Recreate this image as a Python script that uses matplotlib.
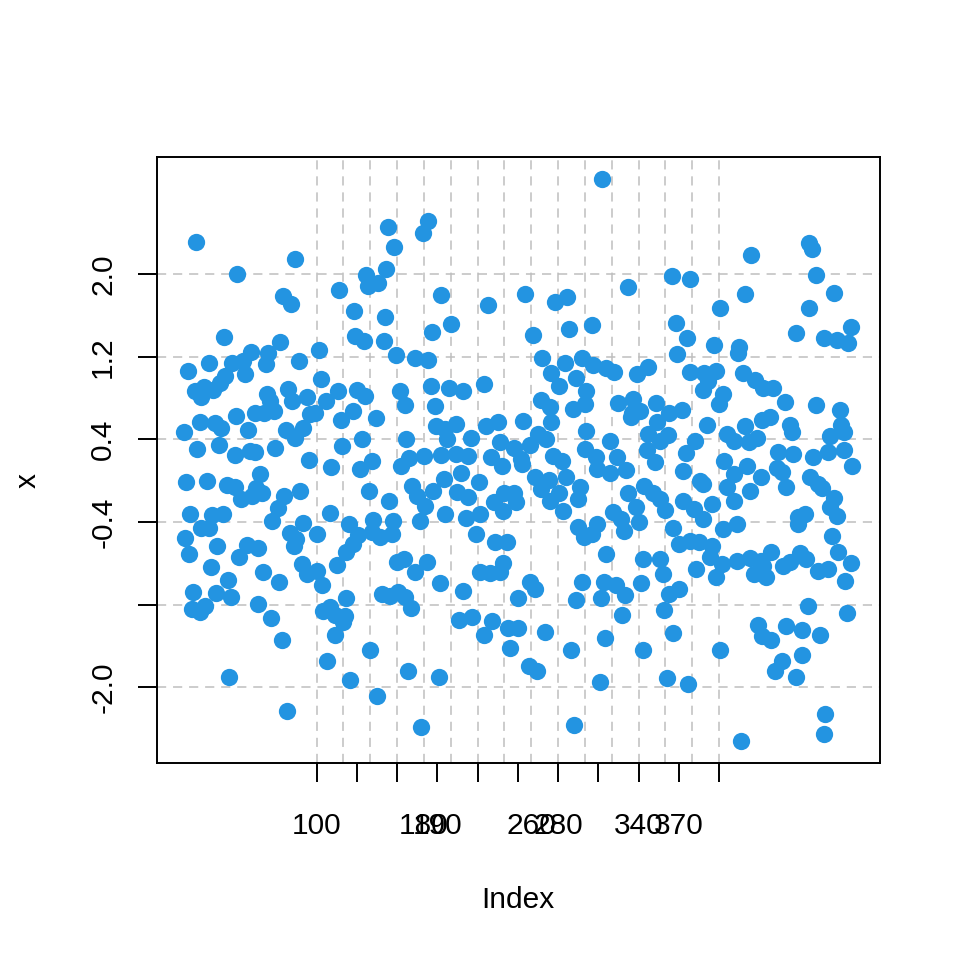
import matplotlib
matplotlib.use("Agg")
import matplotlib.pyplot as plt

plt.rcParams['font.family'] = ['Liberation Sans', 'DejaVu Sans']

# values: position (Index) and value (x) of each visible dot
index = [
    10, 84, 41, 75, 81, 31, 73, 51, 64, 20, 37, 45, 62, 87, 4, 32, 28, 47, 9, 16,
    14, 23, 63, 79, 65, 82, 93, 68, 54, 61, 40, 13, 24, 29, 1, 49, 77, 90, 84, 95,
    11, 27, 39, 50, 54, 69, 94,
    3, 18, 33, 39, 44, 52, 58, 59, 55, 76, 88, 6, 22, 30, 14, 20, 67, 71, 90, 2,
    5, 26, 48, 56, 42, 80, 85, 83, 89, 93, 21, 60, 34, 72, 8, 25, 36, 7, 13, 17,
    56, 66, 74, 35, 78,
    153, 183, 179, 158, 137, 152, 138, 146, 117, 193, 128, 151, 200, 186, 129, 135, 150, 102, 159, 173,
    183, 103, 116, 130, 136, 107, 99, 118, 127, 144, 162, 166, 185, 188, 199, 189, 196, 197, 119, 134,
    167, 169, 180, 193,
    111, 132, 141, 163, 139, 154, 171, 175, 181, 187, 195, 196, 110, 177, 100, 124, 131, 142, 147, 156,
    157, 141, 127, 122, 115, 100, 104, 160, 165, 173, 182, 192, 149, 155, 161, 166, 170, 122, 105, 110,
    114, 121, 120, 114, 140, 108, 125, 168, 191, 145, 178,
    228, 255, 278, 287, 261, 288, 305, 268, 298, 285, 275, 293, 281, 301, 209, 225, 267, 274, 291, 300,
    204, 226, 235, 254, 275, 215, 237, 247, 259, 265, 271, 301, 300, 204, 213, 230, 252, 276, 283,
    238, 253, 208, 221, 205, 213, 232, 240, 247, 249, 239, 263, 273, 267, 286, 296, 274, 284, 295, 281,
    211, 222, 219, 233, 242, 295, 299, 222, 229, 237, 239, 209, 259, 263, 250, 298, 293, 206, 216, 231,
    225, 243, 250, 270, 244, 290, 258, 264, 292,
    313, 332, 365, 378, 401, 368, 376, 396, 369, 306, 316, 322, 339, 347, 378, 389, 398, 392, 388, 403,
    400, 325, 336, 335, 341, 334, 353, 363, 372, 354, 347, 356, 362, 391, 319, 382, 346, 375, 406, 324,
    352, 404, 308,
    309, 319, 331, 373, 386, 388, 406, 332, 344, 351, 356, 360, 338, 340, 321, 327, 329, 309, 305, 373,
    381, 388, 395, 366, 370, 378, 385, 395, 393, 403, 402, 383, 398, 316, 343, 356, 358, 314, 323, 330,
    312, 342, 363, 370, 359, 328, 366, 315, 343, 401, 311, 361, 377,
    424, 467, 469, 472, 419, 486, 467, 457, 498, 478, 488, 496, 415, 414, 418, 427, 433, 440, 449, 472,
    490, 432, 438, 453, 454, 419, 411, 422, 428, 491, 493, 483, 444, 455, 470, 481, 493,
    421, 411, 443, 447, 499, 431, 423, 411, 450, 468, 474, 477, 486, 483, 488, 459, 464, 459, 413, 484,
    489, 498, 494, 413, 423, 431, 439, 426, 435, 433, 448, 453, 460, 465, 474, 481, 466, 495, 429, 432,
    439, 450, 462, 475, 462, 447, 442, 457, 479, 478, 416,
]
x = [
    2.31, 2.145, 2.0, 1.79, 1.716, 1.397, 1.34, 1.25, 1.235, 1.145, 1.145, 1.16, 1.135, 1.16, 1.065, 1.01, 0.95, 1.03, 0.87, 0.91,
    0.81, 0.88, 0.845, 0.89, 0.77, 0.77, 0.81, 0.68, 0.66, 0.66, 0.63, 0.565, 0.555, 0.51, 0.47, 0.49, 0.49, 0.515, 0.41, 0.65,
    0.31, 0.35, 0.25, 0.29, 0.275, 0.32, 0.2,
    -0.01, 0.0, -0.043, -0.065, -0.178, -0.146, 0.064, -0.114, -0.075, -0.152, -0.097, -0.323, -0.333, -0.323, -0.459, -0.462, -0.388, -0.268, -0.414, -0.556,
    -0.71, -0.63, -0.623, -0.656, -0.743, -0.507, -0.565, -0.636, -0.807, -0.904, -0.84, -0.881, -0.962, -0.978, -1.081, -1.088, -1.13, -1.243, -1.275, -1.21,
    -1.194, -1.33, -1.543, -1.897, -2.233,
    2.458, 2.52, 2.40, 2.26, 1.99, 2.05, 1.89, 1.92, 1.85, 1.80, 1.64, 1.59, 1.52, 1.44, 1.40, 1.355, 1.35, 1.265, 1.22, 1.19,
    1.17, 0.99, 0.87, 0.88, 0.82, 0.77, 0.66, 0.587, 0.677, 0.606, 0.87, 0.73, 0.92, 0.72, 0.90, 0.53, 0.50, 0.40, 0.34, 0.40,
    0.40, 0.225, 0.24, 0.25,
    0.13, 0.11, 0.19, 0.14, -0.097, -0.194, -0.049, -0.146, -0.243, -0.097, 0.015, -0.323, -0.317, -0.388, -0.517, -0.42, -0.526, -0.381, -0.549, -0.517,
    -0.388, -0.501, -0.614, -0.694, -0.817, -0.872, -1.01, -0.791, -0.759, -0.888, -0.785, -0.994, -1.097, -1.114, -1.075, -1.13, -1.236, -1.139, -1.259, -1.22,
    -1.3, -1.307, -1.372, -1.494, -1.64, -1.743, -1.926, -1.843, -1.904, -2.088, -2.381,
    1.703, 1.806, 1.732, 1.78, 1.41, 1.468, 1.51, 1.194, 1.194, 1.139, 1.048, 1.0, 0.92, 0.87, 0.87, 0.935, 0.78, 0.71, 0.695, 0.74,
    0.548, 0.526, 0.565, 0.574, 0.565, 0.413, 0.377, 0.322, 0.348, 0.452, 0.403, 0.484, 0.306, 0.258, 0.242, 0.226, 0.21, 0.242, 0.194,
    0.144, 0.161, 0.074, -0.01, -0.107, -0.162, -0.21, -0.123, -0.114, -0.21, -0.291, 0.032, 0.009, -0.081, 0.032, -0.056, -0.194, -0.297, -0.178, -0.114,
    -0.365, -0.323, -0.517, -0.591, -0.597, -0.446, -0.549, -0.888, -0.897, -0.888, -0.801, -1.065, -0.978, -1.049, -1.139, -0.984, -1.152, -1.349, -1.323, -1.355,
    -1.494, -1.43, -1.426, -1.462, -1.62, -1.636, -1.797, -1.839, -2.365,
    2.919, 1.88, 1.984, 1.958, 1.677, 1.532, 1.381, 1.316, 1.226, 1.119, 1.09, 1.058, 1.032, 1.106, 1.058, 1.048, 1.065, 0.968, 0.88, 0.84,
    0.742, 0.758, 0.79, 0.661, 0.677, 0.613, 0.752, 0.652, 0.687, 0.565, 0.452, 0.387, 0.442, 0.542, 0.381, 0.381, 0.297, 0.265, 0.452, 0.226,
    0.177, 0.194, 0.232,
    0.112, 0.074, 0.106, 0.09, 0.0, -0.033, -0.065, -0.114, -0.049, -0.114, -0.172, -0.285, -0.259, -0.397, -0.307, -0.372, -0.485, -0.42, -0.517, -0.194,
    -0.275, -0.372, -0.226, -0.459, -0.614, -0.581, -0.597, -0.636, -0.743, -0.468, -0.807, -0.855, -0.936, -0.71, -0.759, -0.759, -0.904, -0.978, -1.01, -1.107,
    -1.139, -0.991, -1.097, -1.049, -1.249, -1.297, -1.475, -1.527, -1.636, -1.643, -1.946, -1.91, -1.968,
    2.187, 2.30, 2.248, 1.994, 1.813, 1.823, 1.671, 1.435, 1.49, 1.387, 1.361, 1.332, 1.297, 1.235, 1.042, 0.977, 0.894, 0.903, 0.765, 0.735,
    0.687, 0.587, 0.613, 0.539, 0.468, 0.532, 0.387, 0.377, 0.413, 0.542, 0.468, 0.435, 0.274, 0.258, 0.232, 0.274, 0.3,
    0.145, 0.064, 0.128, 0.08, 0.145, 0.038, -0.097, -0.194, -0.065, 0.032, -0.033, -0.075, -0.168, -0.259, -0.339, -0.355, -0.323, -0.42, -0.42, -0.539,
    -0.694, -0.801, -0.975, -0.775, -0.752, -0.775, -0.688, -0.904, -0.936, -0.823, -0.83, -0.785, -0.701, -0.759, -0.872, -0.855, -1.217, -1.284, -1.394, -1.501,
    -1.543, -1.41, -1.443, -1.494, -1.688, -1.749, -1.839, -1.904, -2.259, -2.452, -2.517,
]

n = 500
yticks = [-2.0, -1.2, -0.4, 0.4, 1.2, 2.0]
ytick_labels = ['-2.0', '', '-0.4', '0.4', '1.2', '2.0']
xgrid = list(range(100, 401, 20))
xticks = list(range(100, 401, 30))
xlab_pos = [100, 180, 190, 260, 280, 340, 370]
xlab_text = ['100', '180', '190', '260', '280', '340', '370']

fig = plt.figure(figsize=(9.6, 9.6), dpi=100)
ax = fig.add_axes([157 / 960, 1 - 763 / 960, 723 / 960, 606 / 960])

dash = (0, (6, 4.5))
for g in yticks:
    ax.axhline(g, color='#bebebe', lw=1.1, ls=dash, zorder=1)
for g in xgrid:
    ax.axvline(g, color='#bebebe', lw=1.1, ls=dash, zorder=1)

ax.scatter(index, x, s=155, color='#2394e1', linewidths=0, zorder=3)

# R style 4% padding
xpad = 0.04 * (n - 1)
ax.set_xlim(1 - xpad, n + xpad)
ypad = 0.04 * (max(x) - min(x))
ax.set_ylim(min(x) - ypad, max(x) + ypad)

ax.xaxis.remove_overlapping_locs = False
ax.set_yticks(yticks)
ax.set_yticklabels(ytick_labels)
ax.set_xticks(xticks)
ax.set_xticklabels([])
ax.set_xticks(xlab_pos, minor=True)
ax.set_xticklabels(xlab_text, minor=True)

ax.tick_params(axis='both', which='major', direction='out', length=13.7, width=1.4,
               labelsize=21.5, colors='black')
ax.tick_params(axis='y', labelrotation=90, pad=15)
ax.tick_params(axis='x', which='minor', length=0, pad=35, labelsize=21.5)
for lab in ax.get_yticklabels():
    lab.set_va('center')

for s in ax.spines.values():
    s.set_linewidth(1.4)

fig.text(518 / 960, 1 - 900 / 960, 'Index', ha='center', va='center', fontsize=21.5)
fig.text(28 / 960, 0.5, 'x', rotation=90, ha='center', va='center', fontsize=21.5)

fig.savefig('out.png', dpi=100)
